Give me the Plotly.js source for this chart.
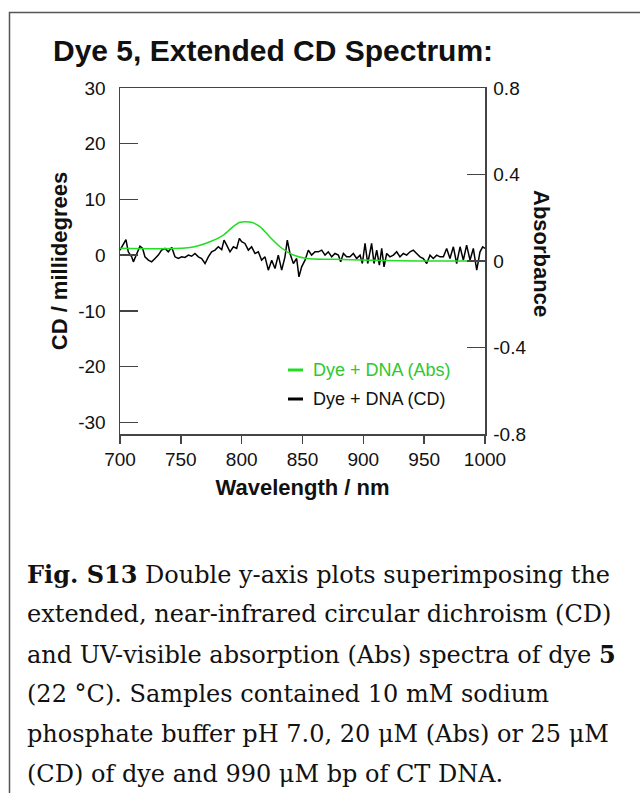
<!DOCTYPE html>
<html>
<head>
<meta charset="utf-8">
<script src="https://cdn.plot.ly/plotly-3.0.1.min.js"></script>
<style>
  html, body { margin: 0; padding: 0; background: #ffffff; }
  #chart { width: 640px; height: 793px; }
</style>
</head>
<body>
<div id="chart"></div>
<script>
// ---- Data ----
// CD spectrum (black, left axis, millidegrees)
const cdWavelength = [700, 704.9, 706.8, 709.6, 711, 713.7, 716.4, 718.6, 720.5, 723.3, 726, 728.8, 731.5, 734.2, 737, 739.7, 742.5, 745.2, 747.9, 750.7, 753.4, 756.2, 758.9, 761.6, 764.4, 767.1, 769.9, 772.6, 775.3, 778.1, 780.8, 783.6, 785.5, 787.7, 790.4, 793.2, 795.9, 798.1, 800, 802.7, 805.5, 808.2, 811, 813.7, 816.4, 819.2, 821.9, 824.7, 827.4, 830.1, 832.9, 835.6, 837.5, 839.7, 842.5, 845.2, 847.1, 849.3, 852.1, 854.8, 857.5, 860.3, 863, 865.8, 868.5, 871.2, 874, 876.7, 879.5, 881.4, 883.6, 886.3, 889, 891.8, 894.5, 897.3, 899.2, 901.4, 903.6, 905.5, 906.8, 908.8, 911, 913.2, 915.1, 917, 919.2, 921.9, 924.7, 927.4, 930.1, 932.9, 935.6, 938.4, 941.1, 943.8, 946.6, 949.3, 952.1, 954.8, 957.5, 960.3, 963, 965.8, 968.5, 971.2, 974, 976.7, 979.5, 982.2, 984.9, 987.7, 990.4, 993.2, 995.9, 998.1, 1000];
const cdMillideg = [0.9, 2.8, 0.6, -0.3, -1.2, 0.3, 1.6, 1.2, -0.3, -0.9, -1.2, -0.6, 0, 0.9, 1.2, 0.6, 1.4, -0.3, -0.6, -0.3, -0.4, 0, -0.2, 0.3, -0.3, -0.6, -1.5, -0.3, 0.6, 0.9, 1.5, 1.0, 2.7, 1.8, 0.6, 1.5, 1.2, 3.0, 2.4, 2.1, 0.9, 1.5, 0.3, 0.6, -0.9, -0.3, -2.7, -0.9, -2.4, 0, -2.7, -0.3, 2.7, 0.3, -1.5, -0.6, -3.9, -2.1, -0.9, 0.9, 0, 0.6, 0.6, 0.9, 0, 0.6, -0.3, 0.3, 0, -1.2, 0.3, -0.3, -0.3, 0.3, -0.6, 0, -1.5, 2.1, -1.5, 0.6, 2.1, -1.5, 0.9, -1.8, 1.2, -2.1, 0.3, -0.3, 0, 0.6, -0.3, 0.3, 0, 0.6, 0.9, 0.3, -0.3, -0.6, -1.5, 0, -0.6, 0, -0.3, -0.3, 1.2, -0.6, 1.5, -1.5, 1.5, -0.9, 1.8, -0.9, 1.2, -2.7, 0.6, 1.5, 1.2];

// Absorbance spectrum (green, right axis)
const absWavelength = [700, 757.5, 774, 785, 793, 798.6, 803, 808, 815, 823, 833, 842.5, 853.5, 875, 930, 998];
const absValue = [0.059, 0.062, 0.089, 0.12, 0.159, 0.179, 0.182, 0.179, 0.159, 0.112, 0.059, 0.028, 0.012, 0.008, 0.001, 0.0];

// Axis ticks
const xTicks = [700, 750, 800, 850, 900, 950, 1000];
const yLeftTicks = [-30, -20, -10, 0, 10, 20, 30];
const yLeftTickText = ['-30', '-20', '-10', '0', '10', '20', '30'];
const yRightTicks = [-0.8, -0.4, 0, 0.4, 0.8];
const yRightTickText = ['-0.8', '-0.4', '0', '0.4', '0.8'];

// Text
const chartTitle = 'Dye 5, Extended CD Spectrum:';
const xTitle = 'Wavelength / nm';
const yLeftTitle = 'CD / millidegrees';
const yRightTitle = 'Absorbance';
const legendNames = ['Dye + DNA (Abs)', 'Dye + DNA (CD)'];
const captionLines = [
  '<b>Fig. S13</b> Double y-axis plots superimposing the',
  'extended, near-infrared circular dichroism (CD)',
  'and UV-visible absorption (Abs) spectra of dye <b>5</b>',
  '(22 °C). Samples contained 10 mM sodium',
  'phosphate buffer pH 7.0, 20 μM (Abs) or 25 μM',
  '(CD) of dye and 990 μM bp of CT DNA.'
];

// ---- Layout helpers (pixel -> paper) ----
const PL = 120, PR = 485, PT = 88, PB = 434;
const W = 640, H = 793;
const px = x => (x - PL) / (PR - PL);
const py = y => (PB - y) / (PB - PT);

const GREEN = '#22dd22';
const GREEN_TEXT = '#2ec82e';
const AXIS = '#444444';
const SANS = 'Liberation Sans, Arial, sans-serif';

const traces = [
  {
    x: cdWavelength, y: cdMillideg, type: 'scatter', mode: 'lines',
    name: legendNames[1], line: {color: '#000000', width: 1.5}, yaxis: 'y'
  },
  {
    x: absWavelength, y: absValue, type: 'scatter', mode: 'lines',
    name: legendNames[0], line: {color: GREEN, width: 1.5, shape: 'spline', smoothing: 0.8}, yaxis: 'y2'
  }
];

const annotations = [];
// right axis title (reads top to bottom)
annotations.push({
  xref: 'paper', yref: 'paper', x: px(542), y: py(253), text: yRightTitle,
  textangle: 90, showarrow: false, xanchor: 'center', yanchor: 'middle',
  font: {family: SANS, size: 22, color: '#111111', weight: 'bold'}
});
// legend texts
annotations.push({
  xref: 'paper', yref: 'paper', x: px(311), y: py(370), text: legendNames[0],
  showarrow: false, xanchor: 'left', yanchor: 'middle',
  font: {family: SANS, size: 18, color: GREEN_TEXT}
});
annotations.push({
  xref: 'paper', yref: 'paper', x: px(311), y: py(399), text: legendNames[1],
  showarrow: false, xanchor: 'left', yanchor: 'middle',
  font: {family: SANS, size: 18, color: '#111111'}
});
// caption
captionLines.forEach((t, i) => {
  annotations.push({
    xref: 'paper', yref: 'paper', x: px(25), y: py(574 + 40 * i), text: t,
    showarrow: false, xanchor: 'left', yanchor: 'middle', align: 'left',
    font: {family: 'DejaVu Serif, Liberation Serif, serif', size: 24, color: '#111111'}
  });
});

const shapes = [
  // outer frame
  {type: 'rect', xref: 'paper', yref: 'paper', x0: px(9.5), x1: px(700), y0: py(850), y1: py(12.5),
   line: {color: '#555555', width: 1.5}, fillcolor: 'rgba(0,0,0,0)'},
  // legend samples
  {type: 'line', xref: 'paper', yref: 'paper', x0: px(288), x1: px(303), y0: py(370), y1: py(370),
   line: {color: GREEN, width: 3}},
  {type: 'line', xref: 'paper', yref: 'paper', x0: px(288), x1: px(303), y0: py(399), y1: py(399),
   line: {color: '#000000', width: 3}}
];

const layout = {
  width: W, height: H,
  margin: {l: PL, r: W - PR, t: PT, b: H - PB, pad: 0},
  paper_bgcolor: '#ffffff', plot_bgcolor: '#ffffff',
  showlegend: false,
  title: {
    text: chartTitle, xref: 'container', yref: 'container',
    x: 53 / W, xanchor: 'left', y: 1 - 50 / H, yanchor: 'middle',
    font: {family: SANS, size: 30, color: '#111111', weight: 'bold'}
  },
  xaxis: {
    range: [700, 1000], tickvals: xTicks, ticks: 'outside', ticklen: 8, tickwidth: 1.5, tickcolor: AXIS,
    showline: true, linecolor: AXIS, linewidth: 1.5, mirror: true,
    showgrid: false, zeroline: false,
    tickfont: {family: SANS, size: 19, color: '#111111'},
    title: {text: xTitle, standoff: 10, font: {family: SANS, size: 22, color: '#111111', weight: 'bold'}}
  },
  yaxis: {
    range: [-32.1, 30], tickvals: yLeftTicks, ticktext: yLeftTickText,
    ticks: 'inside', ticklen: 18, tickwidth: 1.5, tickcolor: AXIS,
    showline: true, linecolor: AXIS, linewidth: 1.5,
    showgrid: false, zeroline: false, ticklabelstandoff: 9,
    tickfont: {family: SANS, size: 19, color: '#111111'},
    title: {text: yLeftTitle, standoff: 4, font: {family: SANS, size: 22, color: '#111111', weight: 'bold'}}
  },
  yaxis2: {
    overlaying: 'y', side: 'right', range: [-0.8, 0.8],
    tickvals: yRightTicks, ticktext: yRightTickText,
    ticks: 'inside', ticklen: 18, tickwidth: 1.5, tickcolor: AXIS,
    showline: true, linecolor: AXIS, linewidth: 1.5,
    showgrid: false, zeroline: false, ticklabelstandoff: 3,
    tickfont: {family: SANS, size: 19, color: '#111111'}
  },
  annotations: annotations,
  shapes: shapes
};

Plotly.newPlot('chart', traces, layout, {displayModeBar: false, staticPlot: true});
</script>
</body>
</html>
